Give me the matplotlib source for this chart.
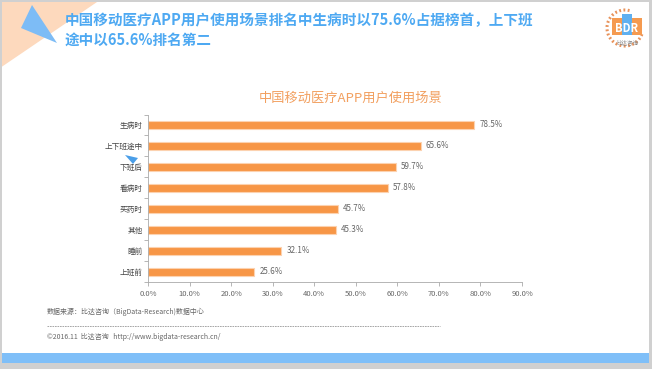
import numpy as np
import matplotlib.pyplot as plt
from matplotlib.patches import Polygon, Rectangle, Arc

plt.rcParams['font.family'] = ['Noto Sans CJK SC', 'DejaVu Sans']

categories = ["生病时", "上下班途中", "下班后", "看病时", "买药时", "其他", "睡前", "上班前"]
values = [78.5, 65.6, 59.7, 57.8, 45.7, 45.3, 32.1, 25.6]
xticks = [0, 10, 20, 30, 40, 50, 60, 70, 80, 90]

title = "中国移动医疗APP用户使用场景排名中生病时以75.6%占据榜首，上下班\n途中以65.6%排名第二"
chart_title = "中国移动医疗APP用户使用场景"
source = "数据来源：比达咨询（BigData-Research)数据中心"
footer = "©2016.11  比达咨询   http://www.bigdata-research.cn/"

W, H = 652, 369
fig = plt.figure(figsize=(W / 100, H / 100), dpi=100)
fig.patch.set_facecolor("white")

# decoration layer in pixel coordinates
deco = fig.add_axes([0, 0, 1, 1])
deco.set_xlim(0, W)
deco.set_ylim(H, 0)
deco.axis("off")

deco.add_patch(Polygon([(0, 0), (100, 0), (0, 68)], closed=True, color="#fdd9bd", lw=0))
deco.add_patch(Polygon([(32, 5), (21, 28), (57, 43)], closed=True, color="#7dbcf6", lw=0))
deco.add_patch(Rectangle((0, 353), W, 10, color="#7fbff8", lw=0))
deco.add_patch(Rectangle((0, 363), W, 6, color="#d0d0d0", lw=0))
deco.add_patch(Rectangle((0, 0), W, 2, color="#d0d0d0", lw=0))
deco.add_patch(Rectangle((0, 0), 2, H, color="#d0d0d0", lw=0))
deco.add_patch(Rectangle((W - 3, 0), 3, H, color="#d0d0d0", lw=0))

deco.text(65, 30, title, fontsize=10.5, fontweight="bold", color="#4ea9f2",
          va="center", ha="left", linespacing=1.25)

# logo
deco.add_patch(Arc((625, 28), 36, 36, theta1=20, theta2=290, color="#e8925a",
                   lw=2.2, ls=(0, (0.6, 0.8))))
deco.add_patch(Rectangle((612, 18), 10, 17, color="#f59a50", lw=0))
deco.add_patch(Rectangle((622, 14), 10, 21, color="#5fb0f0", lw=0))
deco.add_patch(Rectangle((632, 18), 10, 17, color="#f59a50", lw=0))
deco.text(627, 28, "BDR", fontsize=8, color="white", ha="center", va="center", fontweight="bold")
deco.text(628, 42, "比达咨询", fontsize=4, color="#888888", ha="center", va="center")

deco.text(351, 98, chart_title, fontsize=9.5, color="#f2a060", ha="center", va="center")
deco.text(47, 312, source, fontsize=5, color="#666666", ha="left", va="center")
deco.plot([47, 440], [326, 326], color="#999999", lw=0.6, ls=(0, (2, 1)))
deco.text(47, 337, footer, fontsize=5, color="#666666", ha="left", va="center")
deco.add_patch(Polygon([(125, 155), (138, 158), (133, 164)], closed=True, color="#4a9ee8", lw=0))

# chart
ax = fig.add_axes([148 / W, 1 - 282 / H, (522 - 148) / W, (282 - 114.5) / H])
ax.patch.set_alpha(0)
y = np.arange(len(categories))
ax.barh(y, values, height=0.38, color="#f79646", edgecolor="#fcd2b0", linewidth=0.8)
for yi, v in zip(y, values):
    ax.text(v + 1.2, yi, f"{v:.1f}%", fontsize=5.8, color="#666666", va="center", ha="left")

ax.set_xlim(0, 90)
ax.set_ylim(len(categories) - 0.5, -0.5)
ax.set_xticks(xticks)
ax.set_xticklabels([f"{t:.1f}%" for t in xticks], fontsize=5.5, color="#666666")
ax.set_yticks(y)
ax.set_yticklabels(categories, fontsize=5.5, color="#444444")
ax.set_yticks(np.arange(-0.5, len(categories)), minor=True)
ax.tick_params(axis="y", which="major", length=0, pad=4)
ax.tick_params(axis="y", which="minor", length=3, color="#aaaaaa", width=0.6)
ax.tick_params(axis="x", length=3, color="#aaaaaa", width=0.6, pad=3)
for s in ["top", "right"]:
    ax.spines[s].set_visible(False)
for s in ["left", "bottom"]:
    ax.spines[s].set_color("#aaaaaa")
    ax.spines[s].set_linewidth(0.6)

fig.savefig("out.png", dpi=100)
